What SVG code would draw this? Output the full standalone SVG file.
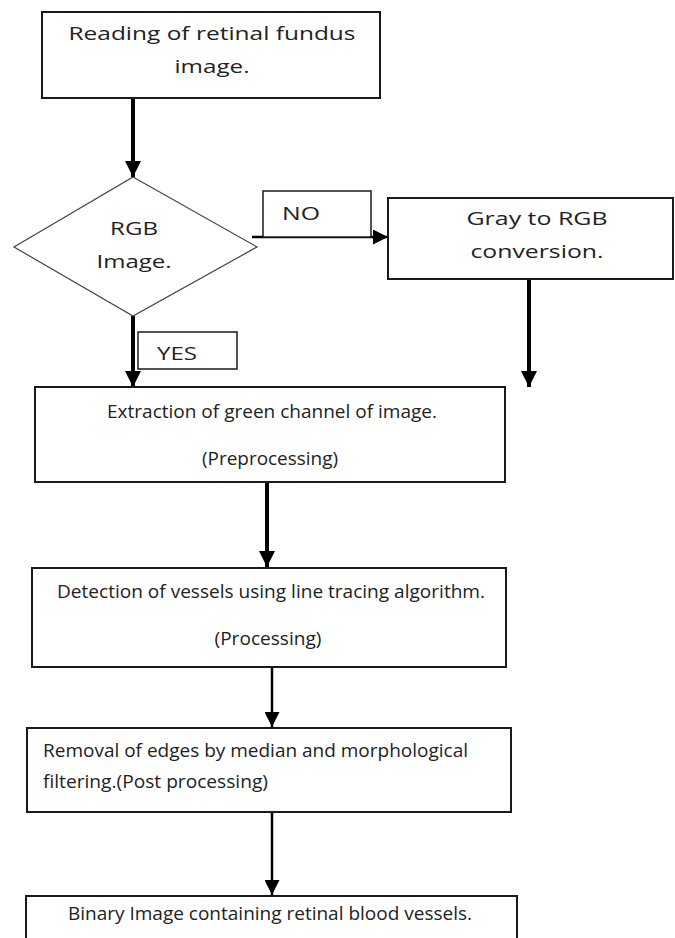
<svg xmlns="http://www.w3.org/2000/svg" width="675" height="938" viewBox="0 0 675 938">
<defs>
<marker id="ah" viewBox="0 0 10 10" refX="10" refY="5" markerWidth="4" markerHeight="4" orient="auto" markerUnits="strokeWidth"><path d="M0,0 L10,5 L0,10 Z" fill="#000"/></marker>
<marker id="ah2" viewBox="0 0 10 10" refX="10" refY="5" markerWidth="6" markerHeight="6" orient="auto" markerUnits="strokeWidth"><path d="M0,0 L10,5 L0,10 Z" fill="#000"/></marker>
</defs>
<style>
.box{fill:#fff;stroke:#1a1a1a;stroke-width:2}
.lbl{fill:#fff;stroke:#1a1a1a;stroke-width:1.5}
.dia{fill:#fff;stroke:#444;stroke-width:1.2}
.t{font-family:"Open Sans","Liberation Sans",sans-serif;font-size:19px;fill:#222}
.c{text-anchor:middle}
.thick{stroke:#000;stroke-width:4;fill:none}
.thin{stroke:#000;stroke-width:2.5;fill:none}
</style>
<rect width="675" height="938" fill="#fff"/>
<g id="connectors">
<line class="thick" x1="133" y1="98" x2="133" y2="177" marker-end="url(#ah)"/>
<line class="thin" x1="252" y1="237" x2="388" y2="237" marker-end="url(#ah2)"/>
<line class="thick" x1="133" y1="316" x2="133" y2="387" marker-end="url(#ah)"/>
<line class="thick" x1="529" y1="279" x2="529" y2="387" marker-end="url(#ah)"/>
<line class="thick" x1="267" y1="483" x2="267" y2="567" marker-end="url(#ah)"/>
<line class="thin" x1="272" y1="668" x2="272" y2="727" marker-end="url(#ah2)"/>
<line class="thin" x1="272" y1="813" x2="272" y2="895" marker-end="url(#ah2)"/>
</g>
<g id="n_read">
<rect class="box" x="42" y="12" width="338" height="86"/>
<text class="t c" x="212" y="40" textLength="287" lengthAdjust="spacingAndGlyphs">Reading of retinal fundus</text>
<text class="t c" x="212" y="73" textLength="75" lengthAdjust="spacingAndGlyphs">image.</text>
</g>
<g id="n_rgb">
<polygon class="dia" points="133,177 257,247 133,316 14,247"/>
<text class="t c" x="134" y="235" textLength="48" lengthAdjust="spacingAndGlyphs">RGB</text>
<text class="t c" x="134" y="268" textLength="75" lengthAdjust="spacingAndGlyphs">Image.</text>
</g>
<g id="l_no">
<rect class="lbl" x="263" y="191" width="108" height="46"/>
<text class="t" x="282" y="220" textLength="38" lengthAdjust="spacingAndGlyphs">NO</text>
</g>
<g id="n_gray">
<rect class="box" x="388" y="198" width="285" height="81"/>
<text class="t c" x="537" y="225" textLength="141" lengthAdjust="spacingAndGlyphs">Gray to RGB</text>
<text class="t c" x="537" y="258" textLength="133" lengthAdjust="spacingAndGlyphs">conversion.</text>
</g>
<g id="l_yes">
<rect class="lbl" x="138" y="332" width="99" height="37"/>
<text class="t" x="157" y="360" textLength="40" lengthAdjust="spacingAndGlyphs">YES</text>
</g>
<g id="n_extract">
<rect class="box" x="35" y="387" width="470" height="95"/>
<text class="t c" x="272" y="418" textLength="330" lengthAdjust="spacingAndGlyphs">Extraction of green channel of image.</text>
<text class="t c" x="270" y="465" textLength="136" lengthAdjust="spacingAndGlyphs">(Preprocessing)</text>
</g>
<g id="n_detect">
<rect class="box" x="32" y="568" width="474" height="99"/>
<text class="t c" x="271" y="598" textLength="428" lengthAdjust="spacingAndGlyphs">Detection of vessels using line tracing algorithm.</text>
<text class="t c" x="268" y="645" textLength="107" lengthAdjust="spacingAndGlyphs">(Processing)</text>
</g>
<g id="n_remove">
<rect class="box" x="27" y="728" width="484" height="84"/>
<text class="t" x="43" y="757" textLength="425" lengthAdjust="spacingAndGlyphs">Removal of edges by median and morphological</text>
<text class="t" x="43" y="788" textLength="225" lengthAdjust="spacingAndGlyphs">filtering.(Post processing)</text>
</g>
<g id="n_binary">
<rect class="box" x="26" y="896" width="491" height="60"/>
<text class="t c" x="270" y="920" textLength="404" lengthAdjust="spacingAndGlyphs">Binary Image containing retinal blood vessels.</text>
</g>
</svg>
